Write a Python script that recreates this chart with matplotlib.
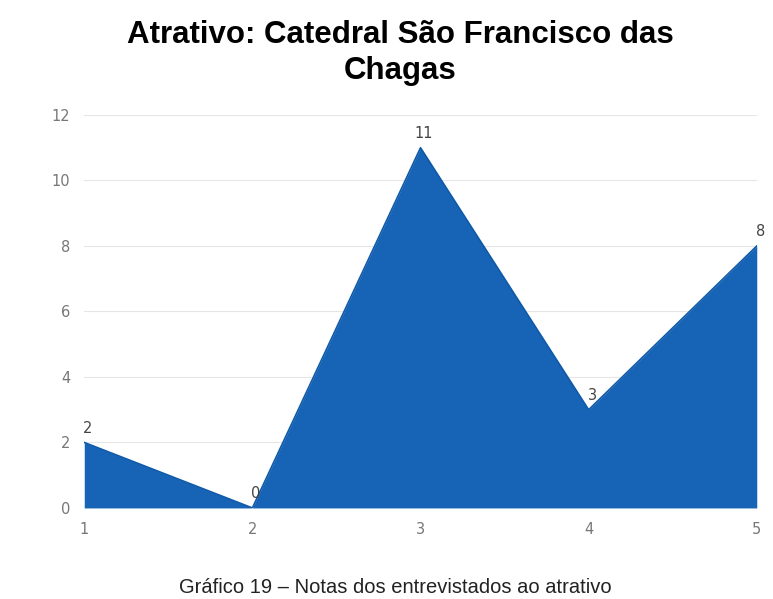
import matplotlib.pyplot as plt

notas = [1, 2, 3, 4, 5]
respostas = [2, 0, 11, 3, 8]
yticks = [0, 2, 4, 6, 8, 10, 12]

fig = plt.figure(figsize=(7.73, 5.99), dpi=100)
ax = fig.add_axes([0.109, 0.152, 0.870, 0.656])

ax.fill_between(notas, respostas, 0, color="#1763b5", linewidth=0)
ax.plot(notas, respostas, color="#0f5aa8", linewidth=1.2)

# value labels above each point
for x, y in zip(notas, respostas):
    ax.text(x + 0.02, y + 0.2, str(y), ha="center", va="bottom", fontsize=10.5, color="#444444")

ax.set_xlim(1, 5)
ax.set_ylim(0, 12)
ax.set_xticks(notas)
ax.set_yticks(yticks)
ax.tick_params(length=0, labelsize=10.5, colors="#777777", pad=10)
ax.grid(axis="y", color="#e6e6e6", linewidth=0.8)
ax.set_axisbelow(True)
for side in ax.spines.values():
    side.set_visible(False)

fig.text(0.518, 0.967, "Atrativo: Catedral São Francisco das\nChagas", ha="center", va="top",
         fontsize=22.5, fontweight="bold", family="Liberation Sans", linespacing=1.25)
fig.text(0.511, 0.004, "Gráfico 19 – Notas dos entrevistados ao atrativo", ha="center", va="bottom",
         fontsize=14.5, family="Liberation Sans", color="#222222")

fig.savefig("out.png", dpi=100)
